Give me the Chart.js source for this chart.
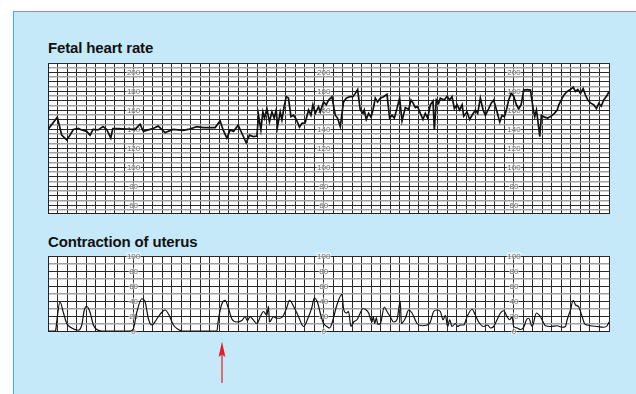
<!DOCTYPE html>
<html><head><meta charset="utf-8">
<script src="https://cdn.jsdelivr.net/npm/chart.js"></script>
<style>
html,body{margin:0;padding:0;background:#fff;}
body{position:relative;width:636px;height:394px;overflow:hidden;}
#panel{position:absolute;left:13px;top:11px;right:0;bottom:0;background:#C6E9F9;border-top:1.5px solid #3AB2E6;border-left:1.5px solid #3AB2E6;}
.title{position:absolute;left:48px;font-family:"Liberation Sans",Arial,sans-serif;font-weight:bold;font-size:15px;letter-spacing:-0.15px;color:#111;line-height:15px;white-space:nowrap;}
canvas{position:absolute;left:0;top:0;}
svg{position:absolute;left:0;top:0;}
</style></head>
<body>
<div id="panel"></div>
<div class="title" style="top:40px">Fetal heart rate</div>
<div class="title" style="top:234px">Contraction of uterus</div>
<canvas id="fhr" width="636" height="394" style="width:636px;height:394px"></canvas>
<canvas id="toco" width="636" height="394" style="width:636px;height:394px"></canvas>
<svg width="636" height="394"><line x1="222" y1="354" x2="222" y2="383" stroke="#E31E24" stroke-width="1.2"/><polygon points="222,341.5 218.6,357 222,354.5 225.4,357" fill="#E31E24"/></svg>
<script>
// ---- data (time in chart-paper grid units, 0..59) ----
const fhrTime = [0,0.98,1.44,1.97,2.32,2.66,3.19,3.55,4.07,4.42,4.74,5.26,5.79,6.18,6.6,6.81,7.37,8.28,9.16,9.68,
10.03,10.53,11.05,11.58,11.97,12.32,12.63,13.16,14.21,14.74,15.65,16.32,17.58,18.1,18.42,18.81,19.16,19.51,20,20.39,
20.84,21.19,21.58,21.97,22.14,22.39,22.6,22.77,23.02,23.29,23.55,23.79,24,24.14,24.42,24.6,24.77,25.05,25.29,25.55,
25.82,26.11,26.45,26.71,27.05,27.4,27.65,27.86,28.11,28.45,28.63,28.98,29.26,29.51,29.86,30.21,30.45,30.74,31.08,31.37,
31.72,32.07,32.32,32.56,32.84,33.13,33.26,33.47,33.72,33.97,34.18,34.42,34.66,34.95,35.29,35.65,35.93,36.18,36.42,36.7,
36.98,37.23,37.58,37.93,38.18,38.39,38.63,38.87,39.16,39.44,39.68,39.93,40.21,40.49,40.63,40.84,41.08,41.26,41.68,41.97,
42.24,42.49,42.74,43.02,43.29,43.55,43.72,44.07,44.35,44.6,44.95,45.19,45.47,45.76,46,46.35,46.6,46.87,47.23,47.51,
47.76,48,48.21,48.45,48.71,48.98,49.26,49.51,49.76,50.03,50.39,50.74,51.02,51.19,51.37,51.51,51.72,51.89,52.21,52.56,
52.92,53.26,53.55,53.72,53.97,54.24,54.6,54.95,55.23,55.47,55.72,56,56.28,56.53,56.77,57.05,57.4,57.68,57.93,58.18,
58.45,58.81,59];
const fhrBpm = [140,153,134,129,134,140,141,139.5,138,134,140,139.5,143,140,131,141,141,140.5,140,145.5,
138,139.5,141,143.5,140,136.5,138,140,139,140,143,142,142,149,139.5,131,139.5,138,144.5,136,
126,134,132.5,133,155,139.5,158.5,152,162,148,158.5,152,160.5,143,158.5,150,160.5,174.5,173,153.5,
155,150.5,142.5,146.5,147,160.5,155,166,157,164,158.5,169,166,171,174.5,155,152,143,169,173,
174.5,174.5,178,182,160.5,157,160.5,150.5,157,153,160.5,173,169,173,174.5,177,152,155,152,162,
173,149,163,161,171,168,163,164,157,150.5,157,152,166,170,139.5,171,167.5,173,171,175,
171,174.5,162,166,160.5,166,154,158.5,150.5,155,160.5,157,173,160.5,155,162,167.5,171,158.5,148,
155,153.5,160.5,171,178,175,166,162,166,181.5,182,181.5,162,153.5,160.5,150,132.5,155,153,152,
154,157,160.5,166,171,176,180,182,184.5,180,182,178,183,176,171,168,166,162,167.5,164.5,
171,176,180];
const tocoTime = [0,0.74,0.81,0.95,1.26,1.61,1.97,2.49,3.19,3.55,3.82,4.07,4.42,4.77,5.13,5.65,8.63,8.98,9.34,9.86,
10.21,10.56,10.92,11.44,11.97,12.32,12.74,13.19,13.72,14.07,17.76,17.93,18.28,18.63,18.98,19.34,19.86,20.39,20.74,20.95,
21.26,21.58,21.97,22.32,22.66,23.02,23.19,23.29,23.72,24.07,24.42,24.77,25.13,25.4,25.82,26.35,26.87,27.4,27.76,28,
28.35,28.63,28.98,29.34,29.61,29.86,30.39,30.92,31.08,31.37,31.61,31.86,32.14,32.49,32.84,33.13,33.47,33.72,34.07,34.21,
34.37,34.53,34.68,34.95,35.37,35.65,36,36.35,36.7,37.05,37.16,37.58,37.93,38.28,38.81,39.34,39.86,40.21,40.56,40.91,
41.26,41.55,41.79,42.03,42.24,42.49,42.84,43.08,43.37,43.72,44.07,44.6,44.95,45.29,45.82,46.24,46.53,46.87,47.23,47.58,
47.93,48.28,48.56,48.81,48.98,49.34,49.68,50.03,50.32,50.56,50.92,51.37,51.79,52.32,52.84,53.55,54.07,54.42,54.6,54.95,
55.23,55.47,55.82,56.18,56.42,56.7,57.05,57.76,58.45,58.81,59];
const tocoValue = [0,0,1,16,39,25,10,4,1,8,28,33,25,8,2,0,0,3,25,43,
39,16,8,16,25,28,21,8,2,0,0,16,36,41,30,16,12,14,19,14,
19,15,10,19,26,21,33,12,19,17,17,21,32,41,33,19,6,19,32,44,
38,24,10,6,4,10,35,49,30,24,26,6,12,15,24,30,28,24,12,19,
10,18,9,10,32,26,19,12,15,40,10,17,28,24,10,7,8,12,26,28,
26,15,21,6,15,6,10,6,8,8,19,29,21,12,6,8,4,6,15,24,
27,19,15,19,6,4,2,5,15,17,6,24,19,7,6,7,5,6,15,28,
41,35,32,19,10,8,7,6,5,7,12];
const fhrTickLabels = [60,80,100,120,140,160,180,200];
const tocoTickLabels = [0,20,40,60,80,100];
const labelColumns = [9,29,49];

// ---- plugins ----
const plotBg = {id:'plotBg', beforeDraw(chart){const {ctx,chartArea:a}=chart;ctx.save();ctx.fillStyle='#ffffff';ctx.fillRect(a.left,a.top,a.right-a.left,a.bottom-a.top);ctx.restore();}};
const gridLabels = {id:'gridLabels', beforeDatasetsDraw(chart,args,opts){
  const {ctx}=chart, xs=chart.scales.x, ys=chart.scales.y;
  ctx.save(); ctx.font='8px "Liberation Sans", Arial, sans-serif'; ctx.textAlign='center'; ctx.textBaseline='middle';
  for(const c of opts.columns){ const px=xs.getPixelForValue(c);
    for(const v of opts.values){ const py=ys.getPixelForValue(v);
      const w=ctx.measureText(String(v)).width;
      ctx.fillStyle='rgba(255,255,255,0.55)'; ctx.fillRect(px-w/2-0.5,py-3.5,w+1,7);
      ctx.fillStyle='#707070'; ctx.fillText(String(v),px,py+0.5);} }
  ctx.restore();}};

function rangeTicks(a,b,s){const t=[];for(let v=a;v<=b+1e-9;v+=s)t.push({value:v});return t;}

function makeChart(id, times, vals, yMin, yMax, yStep, labels, pad, bw, smooth, minorEvery){
  return new Chart(document.getElementById(id),{
    type:'line',
    data:{datasets:[{data:times.map((t,i)=>({x:t,y:vals[i]})),borderColor:'#111',borderWidth:bw,pointRadius:0,
      tension:0, cubicInterpolationMode: smooth?'monotone':'default', fill:false}]},
    options:{responsive:false,animation:false,events:[],
      layout:{padding:pad},
      plugins:{legend:{display:false},tooltip:{enabled:false},gridLabels:{values:labels,columns:labelColumns}},
      scales:{
        x:{type:'linear',min:0,max:59,
          afterBuildTicks:s=>{s.ticks=rangeTicks(0,59,1);},
          ticks:{display:false},grid:{drawTicks:false,color:'#2a2a2a',lineWidth:1},border:{display:true,color:'#222',width:1}},
        y:{type:'linear',min:yMin,max:yMax,
          afterBuildTicks:s=>{s.ticks=rangeTicks(Math.ceil(yMin/yStep)*yStep,yMax,yStep);},
          ticks:{display:false},
          grid:{drawTicks:false,
            color:c=>(c.tick && Math.round(c.tick.value)%minorEvery!==0)?'#a0a0a0':'#2a2a2a',
            lineWidth:c=>(c.tick && Math.round(c.tick.value)%minorEvery!==0)?1.6:1},
          border:{display:true,color:'#222',width:1}}
      }},
    plugins:[plotBg,gridLabels]
  });
}
makeChart('fhr', fhrTime, fhrBpm, 52, 210, 5, fhrTickLabels, {left:48,top:63,right:27,bottom:181}, 1.7, false, 10);
makeChart('toco', tocoTime, tocoValue, 0, 100, 10, tocoTickLabels, {left:48,top:256,right:27,bottom:63}, 1.2, true, 20);
</script>
</body></html>
